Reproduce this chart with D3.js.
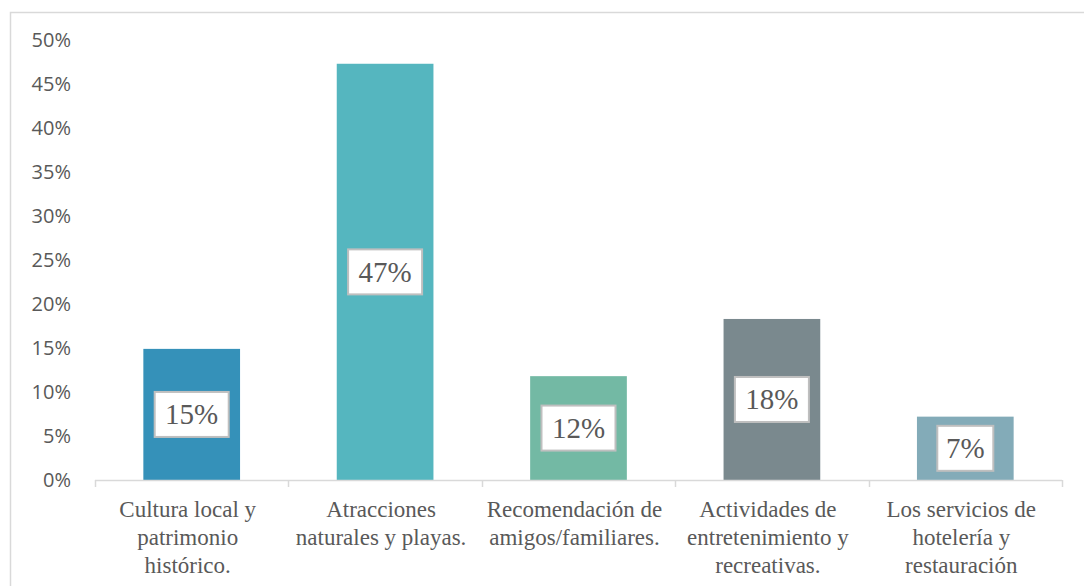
<!DOCTYPE html>
<html>
<head>
<meta charset="utf-8">
<script src="https://cdn.jsdelivr.net/npm/d3@7/dist/d3.min.js"></script>
<style>
  html, body { margin: 0; padding: 0; background: #ffffff; }
  svg { display: block; }
</style>
</head>
<body>
<svg id="chart" width="1084" height="586"></svg>
<script>
const categories = [
  "Cultura local y patrimonio histórico.",
  "Atracciones naturales y playas.",
  "Recomendación de amigos/familiares.",
  "Actividades de entretenimiento y recreativas.",
  "Los servicios de hotelería y restauración"
];
const categoryLines = [
  ["Cultura local y", "patrimonio", "histórico."],
  ["Atracciones", "naturales y playas."],
  ["Recomendación de", "amigos/familiares."],
  ["Actividades de", "entretenimiento y", "recreativas."],
  ["Los servicios de", "hotelería y", "restauración"]
];
const values = [0.149, 0.473, 0.118, 0.183, 0.072];
const valueLabels = ["15%", "47%", "12%", "18%", "7%"];
const barColors = ["#3591b9", "#55b6bf", "#73b9a4", "#7a898e", "#83abb8"];
const yTicks = [0, 0.05, 0.10, 0.15, 0.20, 0.25, 0.30, 0.35, 0.40, 0.45, 0.50];

const svg = d3.select("#chart");
const W = 1084, H = 586;
const m = { left: 95, right: 22, top: 40, bottom: 106 };

// chart frame
svg.append("rect")
  .attr("x", 10.5).attr("y", 12.5)
  .attr("width", W + 20).attr("height", H + 20)
  .attr("fill", "#ffffff").attr("stroke", "#d9d9d9").attr("stroke-width", 1.5);

const x = d3.scaleBand()
  .domain(categories)
  .range([m.left, W - m.right])
  .paddingInner(0.5)
  .paddingOuter(0.25);

const y = d3.scaleLinear()
  .domain([0, 0.5])
  .range([H - m.bottom, m.top]);

// y axis (labels only)
const yAxis = d3.axisLeft(y)
  .tickValues(yTicks)
  .tickFormat(d3.format(".0%"))
  .tickSize(0)
  .tickPadding(0);
const gy = svg.append("g").attr("transform", "translate(71,0)").call(yAxis);
gy.select(".domain").remove();
gy.selectAll("text")
  .attr("fill", "#595959")
  .style("font-family", "'Open Sans', sans-serif")
  .style("font-size", "20px");

// bars
svg.append("g").selectAll("rect")
  .data(values)
  .join("rect")
  .attr("x", (d, i) => x(categories[i]))
  .attr("y", d => y(d))
  .attr("width", x.bandwidth())
  .attr("height", d => y(0) - y(d))
  .attr("fill", (d, i) => barColors[i]);

// x axis line and ticks at band boundaries
const y0 = y(0);
const step = x.step();
const x0 = m.left;
const gx = svg.append("g");
gx.append("line")
  .attr("x1", x0).attr("x2", W - m.right)
  .attr("y1", y0 + 0.5).attr("y2", y0 + 0.5)
  .attr("stroke", "#d9d9d9").attr("stroke-width", 1.5);
d3.range(categories.length + 1).forEach(i => {
  const xx = Math.round(x0 + i * (W - m.right - x0) / categories.length) + 0.5;
  gx.append("line")
    .attr("x1", xx).attr("x2", xx)
    .attr("y1", y0).attr("y2", y0 + 7)
    .attr("stroke", "#d9d9d9").attr("stroke-width", 1.5);
});

// category labels
const labG = svg.append("g");
categories.forEach((c, i) => {
  const cx = x(c) + x.bandwidth() / 2 - 4;
  const t = labG.append("text")
    .attr("text-anchor", "middle")
    .attr("fill", "#595959")
    .style("font-family", "'Liberation Serif', 'Times New Roman', serif")
    .style("font-size", "23px");
  categoryLines[i].forEach((ln, j) => {
    t.append("tspan").attr("x", cx).attr("y", 517 + j * 28).text(ln);
  });
});

// data labels with boxes
const dl = svg.append("g");
values.forEach((v, i) => {
  const cx = x(categories[i]) + x.bandwidth() / 2;
  const cy = (y(v) + y(0)) / 2;
  const text = valueLabels[i];
  const bw = text.length === 2 ? 56 : 74;
  const bh = 45;
  dl.append("rect")
    .attr("x", cx - bw / 2).attr("y", cy - bh / 2)
    .attr("width", bw).attr("height", bh)
    .attr("fill", "#ffffff").attr("stroke", "#bfbfbf").attr("stroke-width", 2);
  dl.append("text")
    .attr("x", cx).attr("y", cy + 10)
    .attr("text-anchor", "middle")
    .attr("fill", "#595959")
    .style("font-family", "'Liberation Serif', 'Times New Roman', serif")
    .style("font-size", "29px")
    .text(text);
});
</script>
</body>
</html>
